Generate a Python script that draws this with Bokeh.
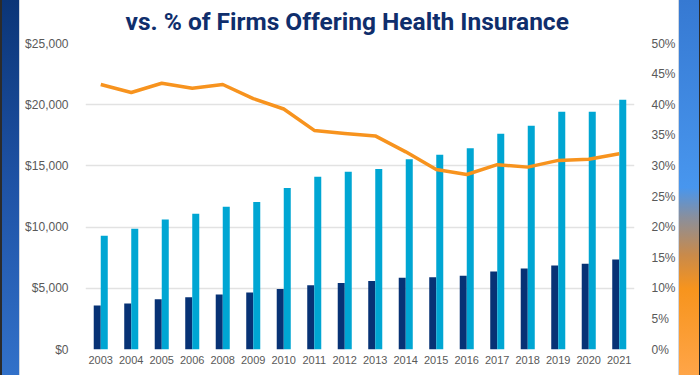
from bokeh.plotting import figure
from bokeh.models import (ColumnDataSource, FactorRange, Range1d, LinearAxis,
                          NumeralTickFormatter, SingleIntervalTicker, Title, Div)
from bokeh.transform import dodge
from bokeh.layouts import row
from bokeh.embed import file_html
from bokeh.resources import INLINE

# ---- data ----
years = ["2003", "2004", "2005", "2006", "2008", "2009", "2010", "2011", "2012",
         "2013", "2014", "2015", "2016", "2017", "2018", "2019", "2020", "2021"]
worker_contrib = [3590, 3750, 4100, 4270, 4490, 4650, 4950, 5250, 5440,
                  5590, 5860, 5910, 6020, 6380, 6620, 6870, 7000, 7360]
premium = [9300, 9870, 10630, 11090, 11670, 12050, 13190, 14110, 14520,
           14750, 15540, 15920, 16440, 17630, 18290, 19430, 19430, 20410]
pct_firms = [0.433, 0.420, 0.435, 0.427, 0.433, 0.410, 0.393, 0.358, 0.353,
             0.349, 0.323, 0.294, 0.286, 0.302, 0.298, 0.309, 0.311, 0.320]
title_text = "vs. % of Firms Offering Health Insurance"

DARK = "#073275"
LIGHT = "#00a6d3"
ORANGE = "#f7931e"
TICK_COLOR = "#595959"

src = ColumnDataSource(dict(year=years, worker=worker_contrib, premium=premium, pct=pct_firms))

H = 375
p = figure(x_range=FactorRange(*years, range_padding=0), y_range=Range1d(0, 25000),
           frame_width=549, frame_height=306, output_backend="svg", toolbar_location=None,
           min_border_left=65, min_border_right=44, min_border_top=43, min_border_bottom=26,
           outline_line_color=None, background_fill_color="white", border_fill_color="white")
p.extra_y_ranges = {"pct": Range1d(0, 0.5)}

p.vbar(x=dodge("year", -0.115, range=p.x_range), top="worker", width=0.23, source=src,
       fill_color=DARK, line_color=None)
p.vbar(x=dodge("year", 0.115, range=p.x_range), top="premium", width=0.23, source=src,
       fill_color=LIGHT, line_color=None)
p.line(x="year", y="pct", source=src, y_range_name="pct", line_color=ORANGE,
       line_width=3.5, line_join="round")

# axes
p.yaxis.ticker = SingleIntervalTicker(interval=5000)
p.yaxis.formatter = NumeralTickFormatter(format="$0,0")
ax_r = LinearAxis(y_range_name="pct", ticker=SingleIntervalTicker(interval=0.05),
                  formatter=NumeralTickFormatter(format="0%"))
p.add_layout(ax_r, "right")

for ax in [p.yaxis[0], ax_r, p.xaxis[0]]:
    ax.axis_line_color = None
    ax.major_tick_line_color = None
    ax.minor_tick_line_color = None
    ax.major_label_text_color = TICK_COLOR
    ax.major_label_text_font = "Liberation Sans"
    ax.major_label_text_font_size = "12px"
p.xaxis.major_label_text_font_size = "11px"
p.xaxis.major_label_standoff = 0
p.yaxis[0].major_label_standoff = 11
ax_r.major_label_standoff = 11

p.xgrid.grid_line_color = None
p.ygrid.grid_line_color = "#e2e2e2"
p.ygrid.grid_line_width = 1.5

t = Title(text=title_text, align="left", vertical_align="top", text_font="Roboto",
          text_font_size="24.5px", text_font_style="bold", text_color="#0f2e6c",
          standoff=12, offset=40)
p.add_layout(t, "above")

# ---- decorative side strips (CSS gradients) ----
left = Div(width=20, height=H, margin=0, styles={
    "background": "linear-gradient(180deg, #0b3577 0%, #1f53a6 50%, #3271c9 100%)",
    "border-left": "2px solid #2b2b2b",
    "border-right": "1.5px solid #cfd6e0", "box-sizing": "border-box"})
right = Div(width=22, height=H, margin=0, styles={
    "background": "linear-gradient(180deg, #3679d2 0%, #4896ee 50%, #8a8f9c 58%, "
                  "#c98a4a 68%, #f7941d 77%, #ffa548 100%)",
    "border-left": "1.5px solid #cfd6e0",
    "border-right": "1px solid #2b2b2b", "box-sizing": "border-box"})

layout = row(left, p, right, spacing=0)
open("out.html", "w").write(file_html(layout, INLINE))
